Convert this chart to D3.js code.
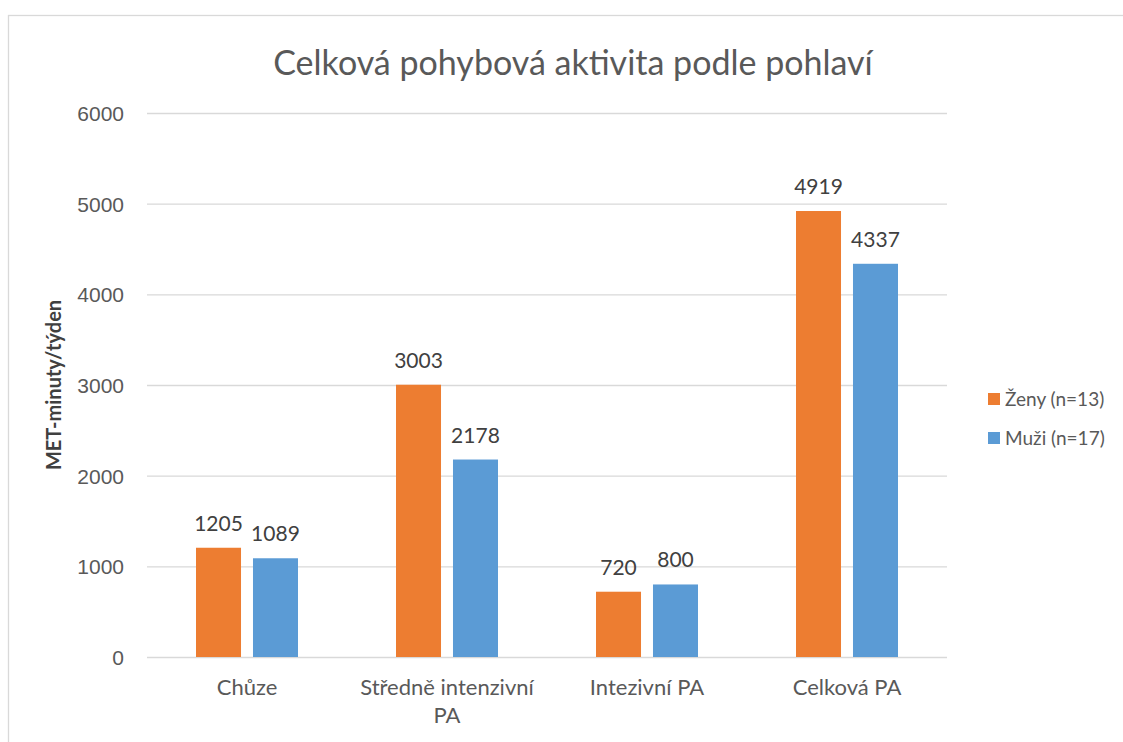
<!DOCTYPE html>
<html>
<head>
<meta charset="utf-8">
<script src="https://cdn.jsdelivr.net/npm/d3@7"></script>
<style>
  body { margin: 0; background: #fff; }
  svg { display: block; font-family: Lato, "Open Sans", sans-serif; }
  .tick text { fill: #595959; font-size: 21px; }
  .grid line { stroke: #d9d9d9; stroke-width: 1.3; }
  .grid path { display: none; }
</style>
</head>
<body>
<svg id="chart" width="1123" height="742"></svg>
<script>
const categories = [['Chůze'], ['Středně intenzivní', 'PA'], ['Intezivní PA'], ['Celková PA']];
const seriesNames = ['Ženy (n=13)', 'Muži (n=17)'];
const zenyValues = [1205, 3003, 720, 4919];
const muziValues = [1089, 2178, 800, 4337];
const yTicks = [0, 1000, 2000, 3000, 4000, 5000, 6000];
const colors = ['#ed7d31', '#5b9bd5'];

const width = 1123, height = 742;
const plot = { left: 147, right: 947, top: 113, bottom: 657 };

const svg = d3.select('#chart');

// chart border (runs off the right/bottom edge like the screenshot)
svg.append('rect')
   .attr('x', 8.5).attr('y', 15.5)
   .attr('width', width + 20).attr('height', height + 20)
   .attr('fill', 'none')
   .attr('stroke', '#d9d9d9')
   .attr('stroke-width', 1.3);

const catKeys = categories.map(c => c.join(' '));
const x0 = d3.scaleBand(catKeys, [plot.left, plot.right])
             .paddingInner(0.49)
             .paddingOuter(0.245);
const x1 = d3.scaleBand([0, 1], [0, x0.bandwidth()])
             .paddingInner(0.21);
const y = d3.scaleLinear([0, 6000], [plot.bottom, plot.top]);

// gridlines
svg.append('g')
   .attr('class', 'grid')
   .attr('transform', `translate(${plot.left},0)`)
   .call(d3.axisLeft(y).tickValues(yTicks)
           .tickSize(-(plot.right - plot.left)).tickFormat(''));

// y tick labels
const yAxis = svg.append('g')
   .attr('transform', `translate(${plot.left},0)`)
   .call(d3.axisLeft(y).tickValues(yTicks).tickSize(0).tickPadding(23)
           .tickFormat(d3.format('d')));
yAxis.select('.domain').remove();
yAxis.selectAll('text').attr('dy', '0.35em');

// y title
svg.append('text')
   .attr('transform', `translate(61,${(plot.top + plot.bottom) / 2}) rotate(-90)`)
   .attr('text-anchor', 'middle')
   .attr('fill', '#404040')
   .attr('font-size', 20)
   .attr('font-weight', 'bold')
   .text('MET-minuty/týden');

// bars
const rows = catKeys.map((k, i) => ({ key: k, values: [zenyValues[i], muziValues[i]] }));
const groups = svg.append('g').selectAll('g')
   .data(rows)
   .join('g')
   .attr('transform', d => `translate(${x0(d.key)},0)`);

groups.selectAll('rect')
   .data(d => d.values.map((v, s) => ({ v, s })))
   .join('rect')
   .attr('x', d => x1(d.s))
   .attr('y', d => y(d.v))
   .attr('width', x1.bandwidth())
   .attr('height', d => y(0) - y(d.v))
   .attr('fill', d => colors[d.s]);

groups.selectAll('text.val')
   .data(d => d.values.map((v, s) => ({ v, s })))
   .join('text')
   .attr('class', 'val')
   .attr('x', d => x1(d.s) + x1.bandwidth() / 2)
   .attr('y', d => y(d.v) - 17)
   .attr('text-anchor', 'middle')
   .attr('fill', '#404040')
   .attr('font-size', 21)
   .text(d => d.v);

// category labels
categories.forEach((lines, i) => {
  const cx = x0(catKeys[i]) + x0.bandwidth() / 2;
  const t = svg.append('text')
     .attr('x', cx)
     .attr('y', 695)
     .attr('text-anchor', 'middle')
     .attr('fill', '#595959')
     .attr('font-size', 22);
  lines.forEach((ln, j) => {
    t.append('tspan')
     .attr('x', cx)
     .attr('dy', j === 0 ? 0 : 28)
     .text(ln);
  });
});

// title
svg.append('text')
   .attr('x', 573)
   .attr('y', 75)
   .attr('text-anchor', 'middle')
   .attr('fill', '#595959')
   .attr('font-size', 34)
   .text('Celková pohybová aktivita podle pohlaví');

// legend
const legend = svg.append('g').selectAll('g')
   .data(seriesNames)
   .join('g')
   .attr('transform', (d, i) => `translate(988,${399 + i * 39})`);
legend.append('rect')
   .attr('x', 0).attr('y', -6)
   .attr('width', 12).attr('height', 12)
   .attr('fill', (d, i) => colors[i]);
legend.append('text')
   .attr('x', 17)
   .attr('dy', '0.35em')
   .attr('fill', '#595959')
   .attr('font-size', 19)
   .text(d => d);
</script>
</body>
</html>
